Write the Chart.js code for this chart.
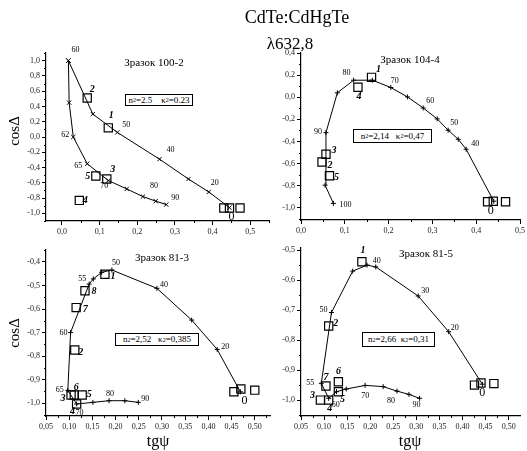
<!DOCTYPE html>
<html>
<head>
<meta charset="utf-8">
<script src="https://cdn.jsdelivr.net/npm/chart.js@4.4.0/dist/chart.umd.min.js"></script>
<style>
body { margin:0; background:#fff; }
#wrap { position:relative; width:527px; height:451px; overflow:hidden; font-family:"Liberation Serif", serif; color:#000; }
#wrap canvas { position:absolute; left:0; top:0; }
.txt { position:absolute; white-space:nowrap; transform:translate(-50%,-50%); line-height:1; }
.rot { transform:translate(-50%,-50%) rotate(-90deg); }
.box { position:absolute; box-sizing:border-box; border:1px solid #000; font-size:9px; line-height:1; white-space:nowrap;
       display:flex; align-items:center; justify-content:center; background:#fff; }
.box sub { font-size:6px; vertical-align:-2px; }
</style>
</head>
<body>
<div id="wrap">
  <canvas id="c1" width="527" height="451"></canvas>
  <canvas id="c2" width="527" height="451"></canvas>
  <canvas id="c3" width="527" height="451"></canvas>
  <canvas id="c4" width="527" height="451"></canvas>

  <div class="txt" style="left:297px;top:17px;font-size:18px">CdTe:CdHgTe</div>
  <div class="txt" style="left:290px;top:43px;font-size:17px">λ632,8</div>

  <div class="txt" style="left:154px;top:62px;font-size:11px">Зразок 100-2</div>
  <div class="txt" style="left:410px;top:59px;font-size:11px">Зразок 104-4</div>
  <div class="txt" style="left:162px;top:257px;font-size:11px">Зразок 81-3</div>
  <div class="txt" style="left:426px;top:253px;font-size:11px">Зразок 81-5</div>

  <div class="txt rot" style="left:14px;top:131px;font-size:15px">cosΔ</div>
  <div class="txt rot" style="left:14px;top:333px;font-size:15px">cosΔ</div>
  <div class="txt" style="left:158px;top:441px;font-size:16px">tgψ</div>
  <div class="txt" style="left:410px;top:441px;font-size:16px">tgψ</div>

  <div class="box" style="left:125px;top:94px;width:68px;height:12px">n<sub>2</sub>=2.5&nbsp;&nbsp;&nbsp;&nbsp;κ<sub>2</sub>=0.23</div>
  <div class="box" style="left:353px;top:129px;width:79px;height:14px">n<sub>2</sub>=2,14&nbsp;&nbsp;&nbsp;κ<sub>2</sub>=0,47</div>
  <div class="box" style="left:115px;top:333px;width:84px;height:13px">n<sub>2</sub>=2,52&nbsp;&nbsp;&nbsp;κ<sub>2</sub>=0,385</div>
  <div class="box" style="left:362px;top:332px;width:73px;height:15px">n<sub>2</sub>=2,66&nbsp;&nbsp;κ<sub>2</sub>=0,31</div>
</div>
<script>
// ---- Зразок 100-2 (top left) ----
const tlUpperTg = [0.017, 0.082, 0.147, 0.259, 0.336, 0.390, 0.445]
const tlUpperCos = [1.00, 0.30, 0.06, -0.29, -0.55, -0.72, -0.925]
const tlUpperAngles = ['60', '', '50', '40', '', '20', '0']
const tlLowerTg = [0.017, 0.019, 0.030, 0.067, 0.123, 0.172, 0.215, 0.249, 0.277]
const tlLowerCos = [1.00, 0.45, 0.00, -0.35, -0.57, -0.68, -0.78, -0.84, -0.885]
const tlLowerAngles = ['', '', '62', '65', '70', '', '80', '', '90']
const tlSquareTg = [0.123, 0.067, 0.119, 0.046, 0.090, 0.430, 0.445, 0.473]
const tlSquareCos = [0.12, 0.51, -0.55, -0.83, -0.51, -0.93, -0.93, -0.93]
const tlSquareNames = ['1', '2', '3', '4', '5', '', '', '']
const tlXTicks = [0, 0.1, 0.2, 0.3, 0.4, 0.5]
const tlYTicks = [-1, -0.8, -0.6, -0.4, -0.2, 0, 0.2, 0.4, 0.6, 0.8, 1]

// ---- Зразок 104-4 (top right) ----
const trTg = [0.074, 0.055, 0.057, 0.083, 0.120, 0.163, 0.205, 0.243, 0.279, 0.311, 0.336, 0.359, 0.377, 0.440]
const trCos = [-0.96, -0.795, -0.32, 0.04, 0.154, 0.154, 0.088, 0.003, -0.097, -0.196, -0.298, -0.38, -0.47, -0.94]
const trAngles = ['100', '', '90', '', '80', '', '70', '', '60', '', '50', '', '40', '0']
const trSquareTg = [0.161, 0.048, 0.057, 0.130, 0.065, 0.426, 0.439, 0.467]
const trSquareCos = [0.18, -0.585, -0.515, 0.09, -0.71, -0.945, -0.94, -0.945]
const trSquareNames = ['1', '2', '3', '4', '5', '', '', '']
const trXTicks = [0, 0.1, 0.2, 0.3, 0.4, 0.5]
const trYTicks = [-1, -0.8, -0.6, -0.4, -0.2, 0, 0.2, 0.4]

// ---- Зразок 81-3 (bottom left) ----
const blTg = [0.469, 0.419, 0.364, 0.289, 0.192, 0.170, 0.152, 0.143, 0.103, 0.097, 0.116, 0.151, 0.186, 0.220, 0.249]
const blCos = [-0.952, -0.772, -0.647, -0.512, -0.434, -0.444, -0.472, -0.494, -0.700, -0.946, -1.004, -0.997, -0.990, -0.990, -0.997]
const blAngles = ['0', '20', '', '40', '50', '', '', '55', '60', '65', '70', '', '80', '', '90']
const blSquareTg = [0.177, 0.112, 0.104, 0.116, 0.128, 0.111, 0.115, 0.134, 0.455, 0.470, 0.500]
const blSquareCos = [-0.452, -0.774, -0.966, -1.004, -0.966, -0.966, -0.594, -0.522, -0.952, -0.940, -0.945]
const blSquareNames = ['1', '2', '3', '4', '5', '6', '7', '8', '', '', '']
const blXTicks = [0.05, 0.10, 0.15, 0.20, 0.25, 0.30, 0.35, 0.40, 0.45, 0.50]
const blYTicks = [-1, -0.9, -0.8, -0.7, -0.6, -0.5, -0.4]

// ---- Зразок 81-5 (bottom right) ----
const brTg = [0.443, 0.370, 0.304, 0.212, 0.193, 0.162, 0.116, 0.094, 0.110, 0.127, 0.148, 0.189, 0.228, 0.258, 0.284, 0.307]
const brCos = [-0.947, -0.772, -0.653, -0.556, -0.550, -0.570, -0.708, -0.944, -0.994, -0.972, -0.963, -0.951, -0.955, -0.970, -0.981, -0.994]
const brAngles = ['0', '20', '30', '40', '', '', '50', '55', '60', '', '', '70', '', '80', '', '90']
const brSquareTg = [0.182, 0.110, 0.092, 0.110, 0.131, 0.131, 0.104, 0.426, 0.440, 0.468]
const brSquareCos = [-0.539, -0.753, -1.0, -1.0, -0.972, -0.939, -0.953, -0.950, -0.943, -0.945]
const brSquareNames = ['1', '2', '3', '4', '5', '6', '7', '', '', '']
const brXTicks = [0.05, 0.10, 0.15, 0.20, 0.25, 0.30, 0.35, 0.40, 0.45, 0.50]
const brYTicks = [-1, -0.9, -0.8, -0.7, -0.6, -0.5]

// label placement (pixel offsets from the point)
const tlUpperOff = [[7,-11],0,[9,-8],[11,-9],0,[6,-9],[2,9]]
const tlLowerOff = [0,0,[-8,-2],[-9,2],[-4,5],0,[11,-11],0,[9,-7]]
const tlSquareOff = [[3,-12],[5,-9],[6,-10],[6,0],[-8,0]]
const trOff = [[12,1],0,[-8,-1],0,[-7,-7],0,[4,-7],0,[7,-7],0,[6,-7],0,[9,-5],[-3,10]]
const trSquareOff = [[7,-8],[8,3],[8,-4],[1,9],[7,2]]
const blOff = [[4,9],[8,-3],0,[7,-3],[4,-7],0,0,[-7,-5],[-7,0],[-8,0],[3,9],0,[1,-7],0,[7,-3]]
const blSquareOff = [[8,2],[6,2],[-8,3],[-4,7],[7,-1],[2,-8],[9,2],[9,1]]
const brOff = [[0,9],[6,-4],[7,-5],[1,-6],0,0,[-8,-3],[-11,0],[7,7],0,0,[0,11],0,[-6,10],0,[-3,7]]
const brSquareOff = [[1,-11],[7,-3],[-8,-5],[1,8],[4,8],[0,-10],[0,-9]]

Chart.defaults.font.family = '"Liberation Serif", serif'
Chart.defaults.color = '#000'

function pts(xs, ys) {
  return xs.map((x, i) => ({x: x, y: ys[i]}))
}

const pointLabels = {
  id: 'pointLabels',
  afterDatasetsDraw(chart) {
    const ctx = chart.ctx
    const xs = chart.scales.x, ys = chart.scales.y
    chart.data.datasets.forEach(ds => {
      if (!ds.marks) return
      ds.data.forEach((p, i) => {
        const t = ds.marks[i]
        if (!t) return
        const off = ds.markOffsets[i] || [0, 0]
        ctx.save()
        if (ds.markStyle == 'sample') ctx.font = 'italic bold 10px "Liberation Serif"'
        else if (t == '0') ctx.font = '12px "Liberation Serif"'
        else ctx.font = '8px "Liberation Serif"'
        ctx.fillStyle = '#000'
        ctx.textAlign = 'center'
        ctx.textBaseline = 'middle'
        ctx.fillText(t, xs.getPixelForValue(p.x) + off[0], ys.getPixelForValue(p.y) + off[1])
        ctx.restore()
      })
    })
  }
}

const minorTicks = {
  id: 'minorTicks',
  afterDraw(chart, args, opts) {
    const ctx = chart.ctx, a = chart.chartArea
    ctx.save()
    ctx.strokeStyle = '#000'
    ctx.lineWidth = 1
    ;['x', 'y'].forEach(id => {
      const s = chart.scales[id], step = opts[id]
      if (!step) return
      const start = Math.ceil(s.min / step - 1e-6)
      for (let k = start; k * step <= s.max + 1e-9; k++) {
        const v = k * step
        if (Math.abs(v / (step * 2) - Math.round(v / (step * 2))) < 1e-6) continue
        const p = Math.round(s.getPixelForValue(v)) + 0.5
        ctx.beginPath()
        if (id == 'x') { ctx.moveTo(p, a.bottom); ctx.lineTo(p, a.bottom + 2) }
        else { ctx.moveTo(a.left, p); ctx.lineTo(a.left - 2, p) }
        ctx.stroke()
      }
    })
    ctx.restore()
  }
}

function fmt(v, d) {
  let s = v.toFixed(d)
  if (parseFloat(s) == 0) s = (0).toFixed(d)
  return s.replace('.', ',')
}

// size = room left for the axis (its labels are clipped to the axis box)
function axis(min, max, tickValues, dec, pos, size) {
  return {
    type: 'linear',
    position: pos,
    min: min,
    max: max,
    afterBuildTicks: s => { s.ticks = tickValues.map(v => ({value: v})) },
    afterFit: s => {
      if (pos == 'left') s.width = size
      else s.height = size
      s.paddingLeft = s.paddingRight = s.paddingTop = s.paddingBottom = 0
    },
    grid: {drawOnChartArea: false, color: '#000', tickLength: 4, lineWidth: 1},
    border: {display: true, color: '#000', width: 1.2},
    ticks: {
      font: {size: 8},
      color: '#222',
      padding: 2,
      maxRotation: 0,
      autoSkip: false,
      callback: v => fmt(v, dec)
    }
  }
}

function curve(xs, ys, marks, offs, style, radius) {
  return {
    data: pts(xs, ys), showLine: true, borderColor: '#000', borderWidth: 1,
    pointStyle: style, pointRadius: radius, pointBorderColor: '#000', pointBorderWidth: 1,
    pointBackgroundColor: 'transparent', marks: marks, markOffsets: offs, clip: false
  }
}

function squares(xs, ys, names, offs) {
  return {
    data: pts(xs, ys), showLine: false, pointStyle: 'rect', pointRadius: 5.8,
    pointBorderColor: '#000', pointBorderWidth: 1.2, pointBackgroundColor: 'transparent',
    marks: names, markOffsets: offs, markStyle: 'sample', clip: false
  }
}

function panel(id, area, xr, yr, minor, datasets) {
  new Chart(document.getElementById(id), {
    type: 'scatter',
    data: {datasets: datasets},
    options: {
      responsive: false,
      animation: false,
      events: [],
      layout: {padding: {left: 0, top: area[1], right: 527 - area[2], bottom: 0}},
      scales: {
        x: axis(xr[0], xr[1], xr[2], xr[3], 'bottom', 451 - area[3]),
        y: axis(yr[0], yr[1], yr[2], yr[3], 'left', area[0])
      },
      plugins: {legend: {display: false}, tooltip: {enabled: false}, minorTicks: minor}
    },
    plugins: [pointLabels, minorTicks]
  })
}

panel('c1', [46, 53, 269, 221],
  [-0.0425, 0.55, tlXTicks, 1],
  [-1.1, 1.1, tlYTicks, 1],
  {x: 0.05, y: 0.1},
  [
    curve(tlUpperTg, tlUpperCos, tlUpperAngles, tlUpperOff, 'crossRot', 3),
    curve(tlLowerTg, tlLowerCos, tlLowerAngles, tlLowerOff, 'crossRot', 3),
    squares(tlSquareTg, tlSquareCos, tlSquareNames, tlSquareOff)
  ])

panel('c2', [301, 53, 525, 220],
  [0, 0.5, trXTicks, 1],
  [-1.11, 0.4, trYTicks, 1],
  {x: 0.05, y: 0.1},
  [
    curve(trTg, trCos, trAngles, trOff, 'cross', 2.5),
    squares(trSquareTg, trSquareCos, trSquareNames, trSquareOff)
  ])

panel('c3', [46, 250, 270, 416],
  [0.05, 0.5328, blXTicks, 2],
  [-1.055, -0.349, blYTicks, 1],
  {x: 0.025, y: 0.05},
  [
    curve(blTg, blCos, blAngles, blOff, 'cross', 2.5),
    squares(blSquareTg, blSquareCos, blSquareNames, blSquareOff)
  ])

panel('c4', [301, 248, 525, 416],
  [0.05, 0.5246, brXTicks, 2],
  [-1.053, -0.493, brYTicks, 1],
  {x: 0.025, y: 0.05},
  [
    curve(brTg, brCos, brAngles, brOff, 'cross', 2.5),
    squares(brSquareTg, brSquareCos, brSquareNames, brSquareOff)
  ])
</script>
</body>
</html>
